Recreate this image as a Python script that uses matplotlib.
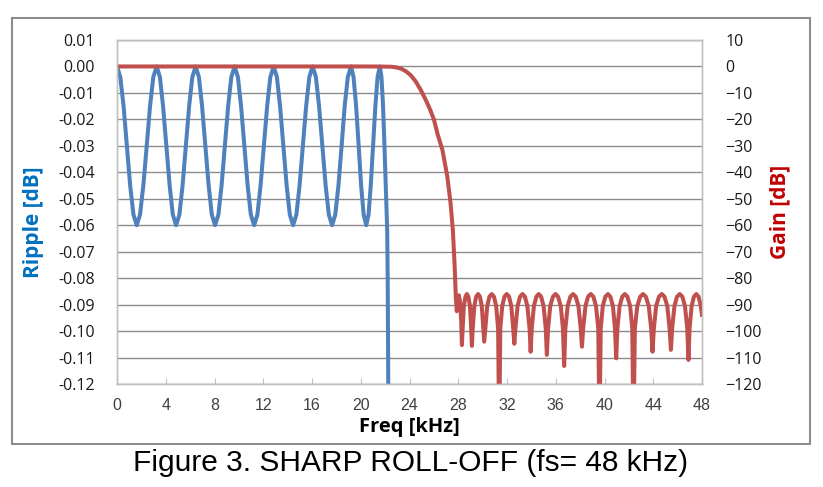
import matplotlib
matplotlib.use('Agg')
import matplotlib.pyplot as plt
from matplotlib.patches import Rectangle

# passband ripple (left axis)
ripple_khz = [
    0.00, 0.27, 0.54, 0.81, 1.08, 1.35, 1.62,
    1.89, 2.16, 2.44, 2.71, 2.98, 3.25,
    3.52, 3.78, 4.05, 4.32, 4.58, 4.85,
    5.12, 5.38, 5.65, 5.92, 6.18, 6.45,
    6.72, 6.98, 7.25, 7.52, 7.78, 8.05,
    8.32, 8.58, 8.85, 9.12, 9.38, 9.65,
    9.92, 10.18, 10.45, 10.72, 10.98, 11.25,
    11.52, 11.78, 12.05, 12.32, 12.58, 12.85,
    13.12, 13.38, 13.65, 13.92, 14.18, 14.45,
    14.72, 14.98, 15.25, 15.52, 15.78, 16.05,
    16.32, 16.58, 16.85, 17.12, 17.38, 17.65,
    17.91, 18.17, 18.43, 18.68, 18.94, 19.20,
    19.41, 19.62, 19.83, 20.03, 20.24, 20.45,
    20.64, 20.82, 21.01, 21.20, 21.38, 21.57,
    21.70, 21.82, 21.93, 22.03, 22.11, 22.17, 22.21, 22.24, 22.27,
]
ripple_db = [
    0.000, -0.004, -0.015, -0.030, -0.045, -0.056, -0.060,
    -0.056, -0.045, -0.030, -0.015, -0.004, 0.000,
    -0.004, -0.015, -0.030, -0.045, -0.056, -0.060,
    -0.056, -0.045, -0.030, -0.015, -0.004, 0.000,
    -0.004, -0.015, -0.030, -0.045, -0.056, -0.060,
    -0.056, -0.045, -0.030, -0.015, -0.004, 0.000,
    -0.004, -0.015, -0.030, -0.045, -0.056, -0.060,
    -0.056, -0.045, -0.030, -0.015, -0.004, 0.000,
    -0.004, -0.015, -0.030, -0.045, -0.056, -0.060,
    -0.056, -0.045, -0.030, -0.015, -0.004, 0.000,
    -0.004, -0.015, -0.030, -0.045, -0.056, -0.060,
    -0.056, -0.045, -0.030, -0.015, -0.004, 0.000,
    -0.004, -0.015, -0.030, -0.045, -0.056, -0.060,
    -0.056, -0.045, -0.030, -0.015, -0.004, 0.000,
    -0.004, -0.014, -0.028, -0.042, -0.053, -0.062, -0.080, -0.105, -0.130,
]

# overall gain (right axis): roll-off then stopband lobes
gain_khz = [
    0.0, 21.0, 22.0, 22.5, 22.9, 23.3, 23.7, 24.1, 24.5, 24.9, 25.3, 25.7,
    26.0, 26.3, 26.7, 27.1, 27.37, 27.56, 27.7, 27.8, 27.88, 27.95, 28.05,
    28.15, 28.24, 28.30,
    28.36, 28.46, 28.59, 28.71, 28.83, 28.96, 29.06, 29.12,
    29.19, 29.32, 29.47, 29.63, 29.78, 29.93, 30.06, 30.13,
    30.22, 30.38, 30.56, 30.75, 30.93, 31.11, 31.27, 31.36,
    31.45, 31.61, 31.79, 31.98, 32.17, 32.35, 32.51, 32.60,
    32.69, 32.87, 33.07, 33.27, 33.47, 33.67, 33.85, 33.94,
    34.03, 34.21, 34.41, 34.60, 34.80, 35.00, 35.18, 35.27,
    35.37, 35.55, 35.77, 35.98, 36.19, 36.41, 36.59, 36.69,
    36.79, 36.98, 37.20, 37.42, 37.64, 37.86, 38.05, 38.15,
    38.25, 38.44, 38.65, 38.87, 39.09, 39.30, 39.49, 39.59,
    39.69, 39.86, 40.07, 40.28, 40.48, 40.69, 40.86, 40.96,
    41.06, 41.24, 41.46, 41.67, 41.88, 42.10, 42.28, 42.38,
    42.49, 42.69, 42.93, 43.16, 43.39, 43.63, 43.83, 43.94,
    44.05, 44.24, 44.47, 44.70, 44.92, 45.15, 45.34, 45.45,
    45.55, 45.74, 45.95, 46.17, 46.39, 46.60, 46.79, 46.89,
    46.98, 47.15, 47.34, 47.53, 47.72, 47.90, 48.00,
]
gain_db = [
    0.0, 0.0, -0.05, -0.1, -0.35, -0.8, -1.8, -3.3, -5.6, -8.7, -12.3, -16.4,
    -20.0, -25.5, -31.5, -41.5, -51.7, -62.0, -75.0, -87.0, -92.5, -89.0, -86.5,
    -89.0, -96.0, -105.3,
    -99, -90.5, -87, -86, -87, -90.5, -99, -105.6,
    -99, -90.5, -87, -86, -87, -90.5, -99, -104.0,
    -99, -90.5, -87, -86, -87, -90.5, -99, -140.0,
    -99, -90.5, -87, -86, -87, -90.5, -99, -104.8,
    -99, -90.5, -87, -86, -87, -90.5, -99, -107.8,
    -99, -90.5, -87, -86, -87, -90.5, -99, -109.0,
    -99, -90.5, -87, -86, -87, -90.5, -99, -113.2,
    -99, -90.5, -87, -86, -87, -90.5, -99, -105.9,
    -99, -90.5, -87, -86, -87, -90.5, -99, -140.0,
    -99, -90.5, -87, -86, -87, -90.5, -99, -110.3,
    -99, -90.5, -87, -86, -87, -90.5, -99, -140.0,
    -99, -90.5, -87, -86, -87, -90.5, -99, -107.8,
    -99, -90.5, -87, -86, -87, -90.5, -99, -107.1,
    -99, -90.5, -87, -86, -87, -90.5, -99, -110.9,
    -99, -90.5, -87, -86, -87, -90.5, -93.9,
]

x_ticks = list(range(0, 49, 4))
ripple_ticks = [round(-0.12 + 0.01 * i, 2) for i in range(14)]
gain_ticks = list(range(-120, 11, 10))

BLUE = '#4F81BD'
RED = '#C0504D'
TICK_FONT = 'Open Sans'
LABEL_FONT = 'Open Sans'

W, H = 823, 487
fig = plt.figure(figsize=(W / 100, H / 100), dpi=100)

# outer chart frame
fig.patches.append(Rectangle((12 / W, 1 - 444 / H), 798 / W, 426 / H,
                             transform=fig.transFigure, fill=False,
                             edgecolor='#8c8c8c', linewidth=1.5))

ax = fig.add_axes([117 / W, 1 - 384 / H, 585 / W, 344 / H])
ax.plot(ripple_khz, ripple_db, color=BLUE, lw=2.9, solid_joinstyle='round')
ax.set_xlim(0, 48)
ax.set_ylim(-0.12, 0.01)
ax.set_xticks(x_ticks)
ax.set_yticks(ripple_ticks)
ax.set_yticklabels([f'{v:.2f}' for v in ripple_ticks])
ax.grid(axis='y', color='#8c8c8c', lw=1.0)
for s in ax.spines.values():
    s.set_color('#c0c0c0')
    s.set_linewidth(1.0)
ax.tick_params(axis='y', length=0, pad=16, labelsize=11.5, labelcolor='#1a1a1a')
ax.tick_params(axis='x', direction='in', length=4, color='#c0c0c0',
               pad=10, labelsize=11.5, labelcolor='#404040')
for lab in ax.get_yticklabels():
    lab.set_family(TICK_FONT)
for lab in ax.get_xticklabels():
    lab.set_family('Liberation Sans')

tw = ax.twinx()
tw.plot(gain_khz, gain_db, color=RED, lw=2.9, solid_joinstyle='round')
tw.set_ylim(-120, 10)
tw.set_yticks(gain_ticks)
tw.tick_params(axis='y', length=0, pad=17, labelsize=11.5, labelcolor='#1a1a1a')
for lab in tw.get_yticklabels():
    lab.set_family(TICK_FONT)
    lab.set_ha('left')
for s in tw.spines.values():
    s.set_color('#c0c0c0')
    s.set_linewidth(1.0)

fig.text(33 / W, 1 - 222 / H, 'Ripple [dB]', rotation=90, ha='center', va='center',
         family=LABEL_FONT, weight='bold', size=15, color='#0070C0')
fig.text(780 / W, 1 - 212 / H, 'Gain [dB]', rotation=90, ha='center', va='center',
         family=LABEL_FONT, weight='bold', size=15, color='#C00000')
fig.text(409 / W, 1 - 427 / H, 'Freq [kHz]', ha='center', va='center',
         family=LABEL_FONT, weight='bold', size=14.5, color='#000000')
fig.text(411 / W, 1 - 463 / H, 'Figure 3. SHARP ROLL-OFF (fs= 48 kHz)',
         ha='center', va='center', family='Liberation Sans', size=21.5, color='#000000')

fig.savefig('out.png', dpi=100)
